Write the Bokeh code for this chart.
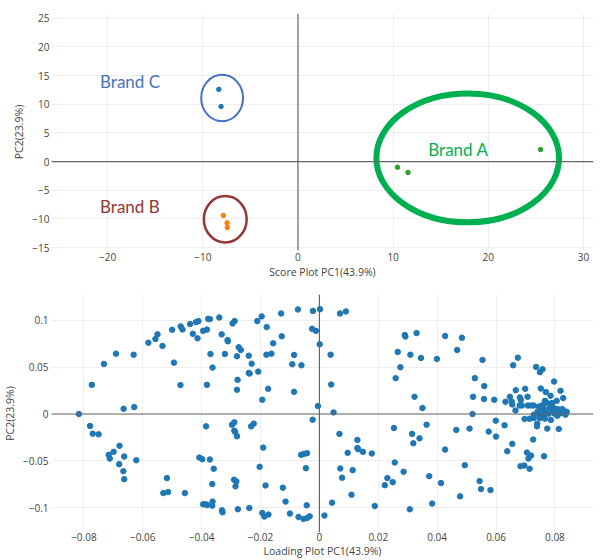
from bokeh.plotting import figure
from bokeh.layouts import column
from bokeh.models import Span, FixedTicker, CustomJSTickFormatter
from bokeh.core.properties import value
from bokeh.embed import file_html
from bokeh.resources import INLINE

# ---------------- Score plot data ----------------
brand_c_pc1 = [-8.32, -8.08]
brand_c_pc2 = [12.6, 9.6]
brand_b_pc1 = [-7.84, -7.45, -7.42]
brand_b_pc2 = [-9.4, -10.7, -11.5]
brand_a_pc1 = [10.46, 11.57, 25.5]
brand_a_pc2 = [-1.0, -1.9, 2.1]

score_x_ticks = [-20, -10, 0, 10, 20, 30]
score_y_ticks = [-15, -10, -5, 0, 5, 10, 15, 20, 25]

# annotation (hand-drawn ellipses and labels on the score plot)
brand_names = ["Brand A", "Brand B", "Brand C"]
brand_label_colors = ["#00B050", "#943634", "#4472C4"]

# ---------------- Loading plot data ----------------
loading_pc1 = [
    -0.0817, -0.0773, -0.0732, -0.0691, -0.0631, -0.0665, -0.0629, -0.0581, -0.0557, -0.0550,
    -0.0533, -0.0500, -0.0494, -0.0472, -0.0471, -0.0465, -0.0439, -0.0430, -0.0419, -0.0411,
    -0.0414, -0.0395,
    -0.0382, -0.0378, -0.0372, -0.0340, -0.0332, -0.0312, -0.0311, -0.0295, -0.0288, -0.0274,
    -0.0267, -0.0370, -0.0321, -0.0280, -0.0240, -0.0363, -0.0230, -0.0240, -0.0237, -0.0208,
    -0.0382, -0.0278, -0.0280, -0.0174, -0.0194, -0.0211, -0.0196, -0.0179, -0.0130, -0.0073,
    -0.0022, 0.0002, 0.0070, 0.0090, -0.0025, -0.0012, -0.0128, -0.0157, -0.0180, -0.0163,
    -0.0086, -0.0092, -0.0061, 0.0001, 0.0038, -0.0086, 0.0040, -0.0005, 0.0048, -0.0023,
    0.0266, 0.0259,
    0.0275, 0.0290, 0.0292, 0.0330, 0.0309, 0.0345, 0.0399, 0.0427, 0.0484, 0.0468,
    0.0554, 0.0528, 0.0560, 0.0323, 0.0350, 0.0522, 0.0559, 0.0520, 0.0364,
    0.0674, 0.0658, 0.0736, 0.0758, 0.0749, 0.0797, 0.0667, 0.0699, 0.0752, 0.0769,
    0.0819, 0.0647, 0.0681, 0.0707, 0.0785, 0.0828, 0.0594, 0.0632, 0.0653, 0.0684,
    0.0766, 0.0806, 0.0655, 0.0680, 0.0688, 0.0708, 0.0719, 0.0728, 0.0746, 0.0760,
    0.0774, 0.0790, 0.0753, 0.0766, 0.0783, 0.0796, 0.0809, 0.0825, 0.0836, 0.0666,
    0.0741, 0.0759, 0.0792, 0.0804, 0.0819, 0.0840, 0.0836, 0.0728, 0.0747, 0.0763,
    0.0779, 0.0799, 0.0814, 0.0825, 0.0697, 0.0714, 0.0728, 0.0749, 0.0766, 0.0786,
    0.0808, 0.0599, 0.0740, 0.0739, 0.0629, 0.0774, 0.0813, 0.0575, 0.0600, 0.0726,
    0.0655, 0.0638, 0.0705, 0.0719, 0.0710, 0.0763, 0.0683, 0.0696, 0.0714,
    -0.0779, -0.0770, -0.0750, -0.0679, -0.0699, -0.0716, -0.0712, -0.0663, -0.0680, -0.0622,
    -0.0666, -0.0663, -0.0518, -0.0530, -0.0514, -0.0457, -0.0408, -0.0398, -0.0395,
    -0.0385, -0.0297, -0.0289, -0.0289, -0.0286, -0.0280, -0.0232, -0.0223, -0.0372, -0.0359,
    -0.0191, -0.0062, -0.0053, -0.0042, -0.0203, -0.0046, -0.0290, -0.0282, -0.0364, -0.0285,
    -0.0183, -0.0124, -0.0386, -0.0381, -0.0363, -0.0364, -0.0331, -0.0329, -0.0277, -0.0238,
    -0.0194, -0.0187, -0.0173, -0.0115, -0.0100, -0.0071, -0.0054, -0.0042, -0.0033, -0.0043,
    0.0017, 0.0043, 0.0068, 0.0129, 0.0129, 0.0132, 0.0096, 0.0148, 0.0178, 0.0071,
    0.0113, 0.0077, 0.0109, 0.0188, 0.0253, 0.0256, 0.0222, 0.0231, 0.0249,
    0.0286, 0.0307, 0.0315, 0.0319, 0.0340, 0.0373, 0.0383, 0.0413, 0.0427, 0.0465,
    0.0494, 0.0510, 0.0478, 0.0544, 0.0549, 0.0581,
]
loading_pc2 = [
    0.0000, 0.0312, 0.0535, 0.0645, 0.0634, 0.0056, 0.0074, 0.0762, 0.0801, 0.0851,
    0.0727, 0.0900, 0.0549, 0.0309, 0.0936, 0.0904, 0.0961, 0.0857, 0.0982, 0.0993,
    0.0809, 0.0889,
    0.0902, 0.1017, 0.1014, 0.1032, 0.0851, 0.0790, 0.0777, 0.0968, 0.0993, 0.0713,
    0.0684, 0.0641, 0.0641, 0.0617, 0.0623, 0.0496, 0.0538, 0.0439, 0.0432, 0.0453,
    0.0312, 0.0365, 0.0259, 0.0269, 0.0152, 0.0993, 0.1043, 0.0929, 0.1074, 0.1117,
    0.1102, 0.1120, 0.1074, 0.1096, 0.0911, 0.0889, 0.0830, 0.0755, 0.0634, 0.0645,
    0.0631, 0.0532, 0.0521, 0.0745, 0.0634, 0.0237, 0.0315, 0.0085, 0.0017, -0.0061,
    0.0663, 0.0383,
    0.0500, 0.0844, 0.0828, 0.0865, 0.0634, 0.0599, 0.0588, 0.0833, 0.0815, 0.0684,
    0.0578, 0.0383, 0.0298, 0.0184, 0.0064, 0.0184, 0.0160, 0.0000, -0.0114,
    0.0602, 0.0521, 0.0503, 0.0479, 0.0447, 0.0347, 0.0255, 0.0269, 0.0272, 0.0234,
    0.0248, 0.0184, 0.0177, 0.0184, 0.0195, 0.0170, 0.0152, 0.0131, 0.0134, 0.0149,
    0.0141, 0.0141, 0.0102, 0.0091, 0.0091, 0.0091, 0.0091, 0.0091, 0.0081, 0.0099,
    0.0117, 0.0117, 0.0053, 0.0046, 0.0067, 0.0064, 0.0053, 0.0053, 0.0024, 0.0038,
    0.0028, 0.0011, 0.0028, 0.0021, 0.0024, 0.0024, -0.0007, -0.0007, -0.0011, -0.0011,
    0.0003, 0.0003, 0.0003, 0.0011, -0.0053, -0.0050, -0.0043, -0.0043, -0.0050, -0.0064,
    -0.0018, -0.0071, -0.0103, -0.0132, -0.0121, -0.0156, -0.0160, -0.0188, -0.0241, -0.0273,
    -0.0319, -0.0398, -0.0412, -0.0444, -0.0476, -0.0451, -0.0557, -0.0550, -0.0585,
    -0.0128, -0.0210, -0.0217, -0.0340, -0.0404, -0.0436, -0.0476, -0.0454, -0.0536, -0.0494,
    -0.0611, -0.0696, -0.0685, -0.0845, -0.0834, -0.0845, -0.0465, -0.0483, -0.0965,
    -0.0132, -0.0114, -0.0089, -0.0178, -0.0191, -0.0238, -0.0132, -0.0103, -0.0486, -0.0585,
    -0.0359, -0.0436, -0.0426, -0.0419, -0.0564, -0.0579, -0.0702, -0.0720, -0.0749, -0.0773,
    -0.0763, -0.0787, -0.0965, -0.0972, -0.0936, -0.0979, -0.1029, -0.1050, -0.1018, -0.1004,
    -0.1057, -0.1096, -0.1074, -0.0936, -0.1064, -0.1100, -0.1121, -0.1111, -0.1093, -0.0976,
    -0.1085, -0.0947, -0.0213, -0.0277, -0.0362, -0.0377, -0.0415, -0.0404, -0.0422, -0.0582,
    -0.0600, -0.0681, -0.0862, -0.0983, -0.0149, -0.0518, -0.0760, -0.0685, -0.0728,
    -0.0617, -0.1018, -0.0213, -0.0313, -0.0260, -0.0664, -0.0957, -0.0738, -0.0380, -0.0170,
    -0.0547, -0.0156, -0.0880, -0.0717, -0.0802, -0.0813,
]

loading_x_ticks = [-0.08, -0.06, -0.04, -0.02, 0, 0.02, 0.04, 0.06, 0.08]
loading_y_ticks = [-0.1, -0.05, 0, 0.05, 0.1]

FONT = "Open Sans"
TICK_COLOR = "#444444"
GRID_COLOR = "#eeeeee"
ZERO_COLOR = "#666666"

minus_fmt = CustomJSTickFormatter(code="""
const s = Math.abs(tick).toString();
return tick < 0 ? '\u2212' + s : s;
""")


def style(p, xticks, yticks, xlabel, ylabel, tick_size, title_size,
          x_standoff, y_standoff, x_title_standoff):
    p.outline_line_color = None
    p.xaxis.ticker = FixedTicker(ticks=xticks)
    p.yaxis.ticker = FixedTicker(ticks=yticks)
    for ax in (p.xaxis[0], p.yaxis[0]):
        ax.axis_line_color = None
        ax.major_tick_line_color = None
        ax.minor_tick_line_color = None
        ax.major_tick_out = 0
        ax.major_tick_in = 0
        ax.minor_tick_out = 0
        ax.minor_tick_in = 0
        ax.major_label_text_font = FONT
        ax.major_label_text_font_size = tick_size
        ax.major_label_text_color = TICK_COLOR
        ax.axis_label_text_font = FONT
        ax.axis_label_text_font_size = title_size
        ax.axis_label_text_font_style = "normal"
        ax.axis_label_text_color = TICK_COLOR
        ax.formatter = minus_fmt
    p.xaxis.major_label_standoff = x_standoff
    p.yaxis.major_label_standoff = y_standoff
    p.xaxis.axis_label_standoff = x_title_standoff
    p.yaxis.axis_label_standoff = 3
    p.xaxis.axis_label = xlabel
    p.yaxis.axis_label = ylabel
    p.xgrid.grid_line_color = GRID_COLOR
    p.ygrid.grid_line_color = GRID_COLOR
    p.xgrid.ticker = FixedTicker(ticks=xticks)
    p.ygrid.ticker = FixedTicker(ticks=yticks)
    p.add_layout(Span(location=0, dimension="height", line_color=ZERO_COLOR, line_width=1.2))
    p.add_layout(Span(location=0, dimension="width", line_color=ZERO_COLOR, line_width=1.2))


# ---------------- Score plot ----------------
p1 = figure(width=601, height=282, x_range=(-25.9, 31.06), y_range=(-15.52, 25.84),
            output_backend="svg", toolbar_location=None,
            min_border_left=50, min_border_right=8, min_border_top=13, min_border_bottom=32)
style(p1, score_x_ticks, score_y_ticks, "Score Plot PC1(43.9%)", "PC2(23.9%)",
      "10px", "10.5px", 2, 2, 1)

p1.scatter(brand_c_pc1, brand_c_pc2, size=4.5, color="#1f77b4")
p1.scatter(brand_b_pc1, brand_b_pc2, size=4.5, color="#ff7f0e")
p1.scatter(brand_a_pc1, brand_a_pc2, size=4.5, color="#2ca02c")

# hand-drawn group ellipses
p1.ellipse(x=[17.84], y=[0.64], width=[19.2], height=[22.5], fill_color=None,
           line_color="#00B050", line_width=6)
p1.ellipse(x=[-7.64], y=[-10.07], width=[4.5], height=[8.1], fill_color=None,
           line_color="#943634", line_width=2.5)
p1.ellipse(x=[-7.97], y=[11.1], width=[4.4], height=[8.1], fill_color=None,
           line_color="#4472C4", line_width=2)

p1.text(x=[13.7, -20.8, -20.8], y=[2.1, -7.9, 14.0], text=brand_names,
        text_color=brand_label_colors, text_font=value("Lato"), text_font_size="17px",
        text_align="left", text_baseline="middle")

# ---------------- Loading plot ----------------
p2 = figure(width=601, height=278, x_range=(-0.091, 0.0931), y_range=(-0.1266, 0.1277),
            output_backend="svg", toolbar_location=None,
            min_border_left=43, min_border_right=0, min_border_top=12, min_border_bottom=27)
style(p2, loading_x_ticks, loading_y_ticks, "Loading Plot PC1(43.9%)", "PC2(23.9%)",
      "10px", "10.5px", 0, 3, 0)
p2.scatter(loading_pc1, loading_pc2, size=5.5, color="#1f77b4")

layout = column(p1, p2)
open("out.html", "w").write(file_html(layout, INLINE))
